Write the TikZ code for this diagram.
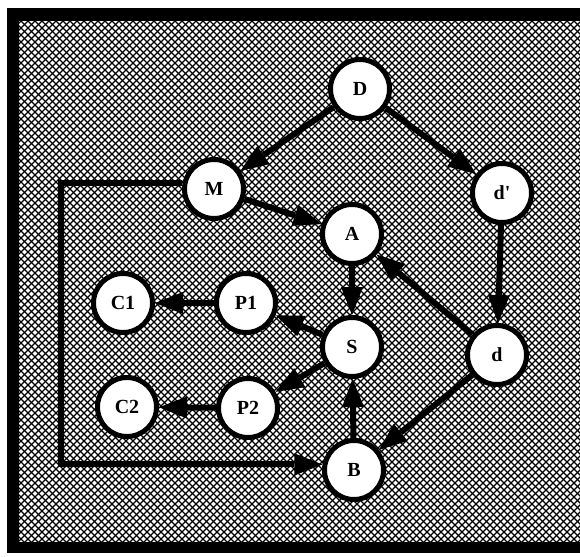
\documentclass[tikz,border=0pt]{standalone}
\usepackage{fontspec}
\setmainfont{Liberation Serif}[Ligatures=TeXOff]
\usetikzlibrary{arrows.meta}
\tikzset{
  state/.style={circle, draw, line width=5pt, fill=white, minimum size=59pt,
    inner sep=0pt, font=\fontsize{20}{24}\selectfont\bfseries},
  conn/.style={line width=6pt,
    -{Triangle[length=28pt 0 0,width=22pt 0 0,line width=0pt]}},
  hatch/.style={line width=1.25pt},
  framebar/.style={fill=black},
}
\begin{document}
\begin{tikzpicture}[x=1pt,y=-1pt]
\useasboundingbox (0,0) rectangle (580,556);

% cross-hatched ground
\begin{scope}
  \clip (19,21) rectangle (580,542);
  \foreach \c in {-560,-553,...,590} \draw[hatch] (\c,0) -- ++(600,600);
  \foreach \c in {0,7,...,1150} \draw[hatch] (\c,0) -- ++(-600,600);
\end{scope}

% heavy frame
\fill[framebar] (7,8) rectangle (19,553);
\fill[framebar] (7,8) rectangle (580,21);
\fill[framebar] (7,542) rectangle (580,553);

% states
\node[state] (D)  at (360,89)  {D};
\node[state] (M)  at (214,189) {M};
\node[state] (dp) at (502,193) {d'};
\node[state] (A)  at (352,234) {A};
\node[state] (C1) at (123,303) {C1};
\node[state] (P1) at (246,303) {P1};
\node[state] (S)  at (352,347) {S};
\node[state] (d)  at (497,355) {d};
\node[state] (C2) at (127,407) {C2};
\node[state] (P2) at (248,408) {P2};
\node[state] (B)  at (354,470) {B};

% transitions
\draw[conn] (D) -- (M);
\draw[conn] (D) -- (dp);
\draw[conn] (M) -- (A);
\draw[conn] (dp) -- (d);
\draw[conn] (d) -- (A);
\draw[conn] (A) -- (S);
\draw[conn] (S) -- (P1);
\draw[conn] (S) -- (P2);
\draw[conn] (P1) -- (C1);
\draw[conn] (P2) -- (C2);
\draw[conn] (B) -- (S);
\draw[conn] (d) -- (B);
\coordinate (k) at (61,300);
\draw[conn] (M.170) -| (k) |- (B.170);
\end{tikzpicture}
\end{document}
